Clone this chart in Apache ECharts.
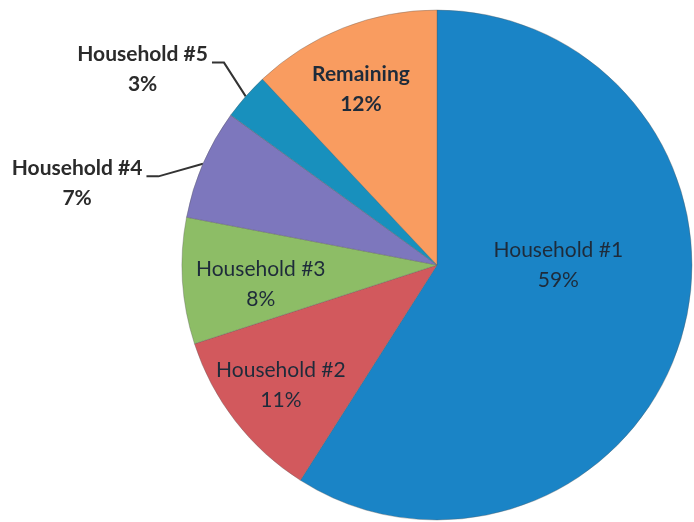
<!DOCTYPE html>
<html>
<head>
<meta charset="utf-8">
<script src="https://cdn.jsdelivr.net/npm/echarts@6/dist/echarts.min.js"></script>
<style>
html,body{margin:0;padding:0;background:#fff;}
#c{width:694px;height:522px;}
</style>
</head>
<body>
<div id="c"></div>
<script>
const categories = ['Household #1', 'Household #2', 'Household #3', 'Household #4', 'Household #5', 'Remaining'];
const values = [59, 11, 8, 7, 3, 12];
const colors = ['#1a84c6', '#d2595d', '#8dbd66', '#7d77bd', '#1890bd', '#f99c60'];
const outsideLabels = [false, false, false, true, true, false];
const boldLabels = [false, false, false, true, true, true];
// label shifts (px) from the library's default label anchor
const labelShift = [[-4, -36], [-53, 40], [-46, 11], [-4, 22], [13, 3], [-28, -54]];

const chart = echarts.init(document.getElementById('c'), null, {renderer: 'canvas'});

const data = categories.map((name, i) => ({
  name: name,
  value: values[i],
  itemStyle: {color: colors[i]},
  label: {
    position: outsideLabels[i] ? 'outside' : 'inside',
    fontWeight: boldLabels[i] ? 'bold' : 'normal',
    color: outsideLabels[i] ? '#2b2b2b' : '#1e2b3a'
  },
  labelLine: {
    show: outsideLabels[i],
    length: i === 4 ? 45 : 6,
    length2: i === 4 ? 12 : 46,
    lineStyle: {color: '#333', width: 2}
  }
}));

chart.setOption({
  animation: false,
  series: [{
    type: 'pie',
    center: [437, 265],
    radius: [0, 255],
    startAngle: 90,
    clockwise: true,
    avoidLabelOverlap: false,
    data: data,
    itemStyle: {borderColor: 'rgba(90,90,90,0.35)', borderWidth: 1},
    label: {
      show: true,
      formatter: p => p.name + '\n' + Math.round(p.percent) + '%',
      fontFamily: 'Lato',
      fontSize: 21,
      lineHeight: 30,
      align: 'center'
    },
    labelLayout: function (p) {
      const s = labelShift[p.dataIndex];
      if (outsideLabels[p.dataIndex]) {
        const right = p.labelRect.x + p.labelRect.width + s[0];
        const top = p.labelRect.y + s[1];
        const end = [right + 4, top + 23];
        const knee = [end[0] + 12, end[1]];
        const start = p.labelLinePoints ? p.labelLinePoints[0] : knee;
        return {
          align: 'center',
          dx: s[0] - p.labelRect.width / 2,
          dy: s[1],
          labelLinePoints: [start, knee, end]
        };
      }
      return {dx: s[0], dy: s[1]};
    }
  }]
});
</script>
</body>
</html>
